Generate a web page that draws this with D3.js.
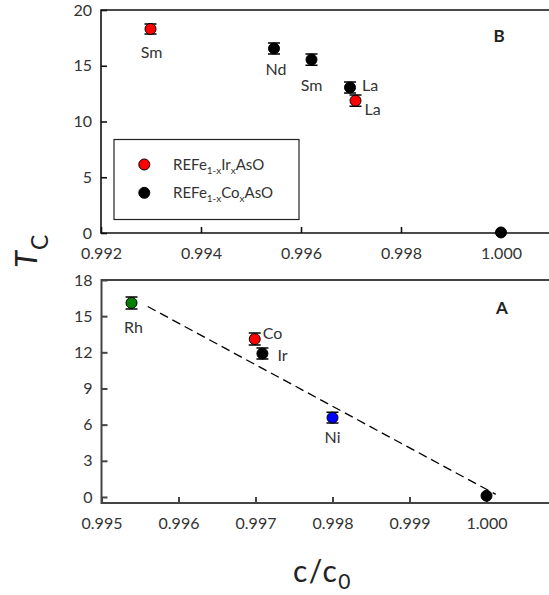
<!DOCTYPE html>
<html><head><meta charset="utf-8">
<script src="https://d3js.org/d3.v7.min.js"></script>
<style>
body{margin:0;background:#fff;}
svg text{font-family:"Century Gothic","URW Gothic",Lato,sans-serif;}
</style></head>
<body>
<div id="chart"></div>
<script>
// ---------- Panel B data ----------
const bIrX = [0.99299, 0.99709];
const bIrY = [18.3, 11.87];
const bIrErr = [0.45, 0.5];
const bIrLabels = ["Sm", "La"];

const bCoX = [0.99546, 0.99621, 0.99698, 1.0];
const bCoY = [16.55, 15.55, 13.05, 0.05];
const bCoErr = [0.5, 0.5, 0.5, 0];
const bCoLabels = ["Nd", "Sm", "La", ""];

const bXTicks = [0.992, 0.994, 0.996, 0.998, 1.000];
const bYTicks = [0, 5, 10, 15, 20];

// ---------- Panel A data ----------
const aX = [0.99539, 0.99699, 0.99709, 0.998, 1.0];
const aY = [16.1, 13.1, 11.9, 6.58, 0.1];
const aErr = [0.5, 0.5, 0.45, 0.45, 0];
const aLabels = ["Rh", "Co", "Ir", "Ni", ""];
const aSeries = ["Rh", "Co", "Ir", "Ni", "none"];

const fitX = [0.9956, 1.00012];
const fitY = [15.8, 0.22];

const aXTicks = [0.995, 0.996, 0.997, 0.998, 0.999, 1.000];
const aYTicks = [0, 3, 6, 9, 12, 15, 18];

const legendLabels = [["REFe","1-x","Ir","x","AsO"], ["REFe","1-x","Co","x","AsO"]];

// ---------- layout ----------
const W = 549, H = 595;
const svg = d3.select("#chart").append("svg").attr("width", W).attr("height", H);

const colorA = d3.scaleOrdinal().domain(["Rh","Co","Ir","Ni","none"])
  .range(["#008000","#ff0000","#000000","#0000ff","#000000"]);

const labelFont = 16, tickFont = 16;
const textCol = "#333";

// Panel B scales
const xB = d3.scaleLinear().domain([0.992, 0.992 + (549-101)/50000]).range([101, 549]);
const yB = d3.scaleLinear().domain([0, 20]).range([233, 10]);
// Panel A scales
const xA = d3.scaleLinear().domain([0.995, 0.995 + (549-101.5)/77000]).range([101.5, 549]);
const yA = d3.scaleLinear().domain([-0.5, 18]).range([503, 280]);

function styleAxis(g, col, w){
  g.select(".domain").remove();
  g.selectAll(".tick line").attr("stroke", col).attr("stroke-width", w);
  g.selectAll(".tick text").attr("fill", textCol).style("font-size", tickFont+"px");
}

function drawFrame(x, y, xt, yt, fmtX, col, w){
  const [x0, x1] = x.range();
  const [y0, y1] = y.range();
  const gx = svg.append("g").attr("transform", `translate(0,${y0})`)
    .call(d3.axisBottom(x).tickValues(xt).tickFormat(fmtX).tickSizeInner(-6).tickSizeOuter(0).tickPadding(15));
  styleAxis(gx, col, w);
  const gy = svg.append("g").attr("transform", `translate(${x0},0)`)
    .call(d3.axisLeft(y).tickValues(yt).tickFormat(d3.format("d")).tickSizeInner(-6).tickSizeOuter(0).tickPadding(9));
  styleAxis(gy, col, w);
  svg.append("path").attr("d", `M${x1},${y1}H${x0}V${y0}H${x1}`)
    .attr("fill","none").attr("stroke", col).attr("stroke-width", w);
}

drawFrame(xB, yB, bXTicks, bYTicks, d3.format(".3f"), "#111", 1.6);
drawFrame(xA, yA, aXTicks, aYTicks, d3.format(".3f"), "#444", 2);

function drawPoints(x, y, xs, ys, errs, colorFn){
  const g = svg.append("g");
  xs.forEach((xv, i) => {
    const cx = x(xv), e = errs[i];
    if (e > 0) {
      const ya = y(ys[i] + e), yb = y(ys[i] - e);
      g.append("path").attr("d", `M${cx},${ya}V${yb}M${cx-6},${ya}H${cx+6}M${cx-6},${yb}H${cx+6}`)
        .attr("stroke","#000").attr("stroke-width",1.5).attr("fill","none");
    }
  });
  xs.forEach((xv, i) => {
    g.append("circle").attr("cx", x(xv)).attr("cy", y(ys[i])).attr("r", 5.5)
      .attr("fill", colorFn(i)).attr("stroke","#000").attr("stroke-width",1);
  });
}

function drawLabels(x, y, xs, ys, labels, offsets){
  labels.forEach((t, i) => {
    if (!t) return;
    const o = offsets[i];
    svg.append("text").attr("x", x(xs[i]) + o[0]).attr("y", y(ys[i]) + o[1])
      .attr("text-anchor", o[2]).attr("fill", textCol).style("font-size", labelFont+"px").text(t);
  });
}

// Panel B
drawPoints(xB, yB, bCoX, bCoY, bCoErr, () => "#000");
drawPoints(xB, yB, bIrX, bIrY, bIrErr, () => "#ff0000");
drawLabels(xB, yB, bIrX, bIrY, bIrLabels, [[1,29,"middle"],[9,14,"start"]]);
drawLabels(xB, yB, bCoX, bCoY, bCoLabels, [[2,27,"middle"],[0,31,"middle"],[12,4,"start"],[0,0,"start"]]);

svg.append("text").attr("x", 499).attr("y", 42).attr("text-anchor","middle")
  .attr("fill","#222").style("font-size","17px").style("font-weight","bold").text("B");

// Legend
svg.append("rect").attr("x",114).attr("y",139.5).attr("width",185).attr("height",80)
  .attr("fill","#fff").attr("stroke","#222").attr("stroke-width",1.2);
const legColors = ["#ff0000","#000000"];
legendLabels.forEach((parts, i) => {
  const cy = 164.5 + i*28.3;
  svg.append("circle").attr("cx",144.3).attr("cy",cy).attr("r",5.5)
    .attr("fill",legColors[i]).attr("stroke","#000").attr("stroke-width",1);
  const t = svg.append("text").attr("x",173).attr("y",cy+5.5).attr("fill",textCol).style("font-size","15px");
  parts.forEach((p, j) => {
    const sub = j % 2 === 1;
    t.append("tspan").text(p).style("font-size", sub ? "10px" : "15px")
      .attr("dy", sub ? 4 : (j>0 ? -4 : 0));
  });
});

// Panel A
svg.append("path")
  .attr("d", d3.line().x((d,i)=>xA(fitX[i])).y((d,i)=>yA(fitY[i]))(fitX))
  .attr("fill","none").attr("stroke","#000").attr("stroke-width",1.3).attr("stroke-dasharray","9,5");
drawPoints(xA, yA, aX, aY, aErr, i => colorA(aSeries[i]));
drawLabels(xA, yA, aX, aY, aLabels, [[2,30,"middle"],[8,0,"start"],[15,7,"start"],[0,25,"middle"],[0,0,"start"]]);

svg.append("text").attr("x", 502).attr("y", 314).attr("text-anchor","middle")
  .attr("fill","#222").style("font-size","17px").style("font-weight","bold").text("A");

// Axis titles
const ty = svg.append("text").attr("transform","translate(37,268) rotate(-90)")
  .attr("fill","#222").style("font-size","31px").style("font-style","italic");
ty.append("tspan").text("T");
ty.append("tspan").text("C").style("font-size","23px").style("font-style","normal").attr("dx",1).attr("dy",11);

const tx = svg.append("text").attr("x",293).attr("y",582).attr("fill","#222")
  .style("font-size","30px").style("letter-spacing","1.5px");
tx.append("tspan").text("c/c");
tx.append("tspan").text("0").style("font-size","21px").attr("dy",7);
</script>
</body></html>
